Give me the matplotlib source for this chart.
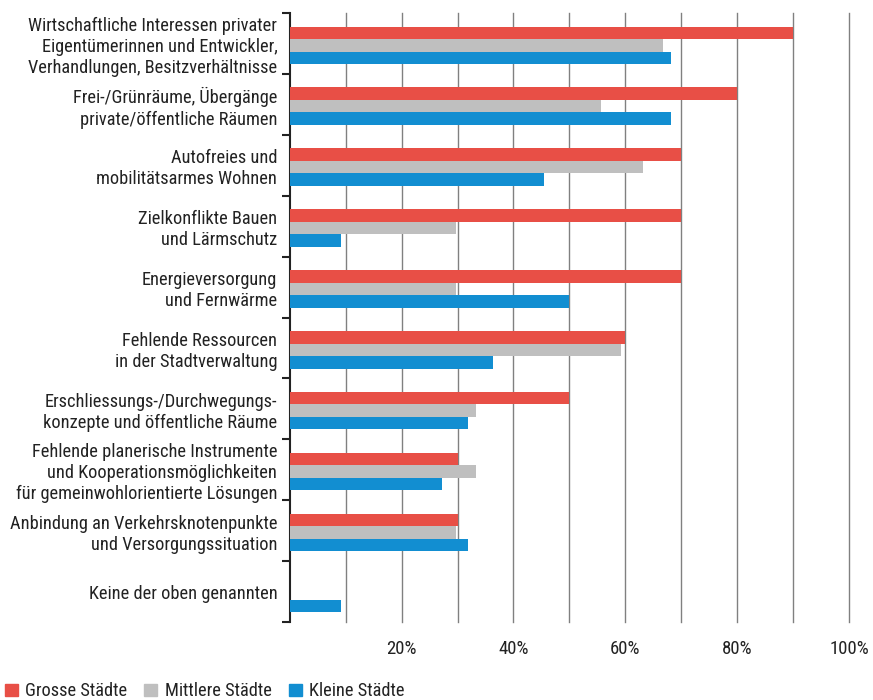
import numpy as np
import matplotlib.pyplot as plt
from matplotlib.patches import Patch

plt.rcParams['font.family'] = ['Roboto Condensed', 'DejaVu Sans']

# Data
categories = [
    'Wirtschaftliche Interessen privater\nEigentümerinnen und Entwickler,\nVerhandlungen, Besitzverhältnisse',
    'Frei-/Grünräume, Übergänge\nprivate/öffentliche Räumen',
    'Autofreies und\nmobilitätsarmes Wohnen',
    'Zielkonflikte Bauen\nund Lärmschutz',
    'Energieversorgung\nund Fernwärme',
    'Fehlende Ressourcen\nin der Stadtverwaltung',
    'Erschliessungs-/Durchwegungs-\nkonzepte und öffentliche Räume',
    'Fehlende planerische Instrumente\nund Kooperationsmöglichkeiten\nfür gemeinwohlorientierte Lösungen',
    'Anbindung an Verkehrsknotenpunkte\nund Versorgungssituation',
    'Keine der oben genannten',
]
grosse = [90, 80, 70, 70, 70, 60, 50, 30, 30, 0]
mittlere = [66.7, 55.6, 63.1, 29.7, 29.7, 59.3, 33.3, 33.3, 29.7, 0]
kleine = [68.2, 68.2, 45.5, 9.1, 50, 36.4, 31.8, 27.3, 31.8, 9.1]
series_names = ['Grosse Städte', 'Mittlere Städte', 'Kleine Städte']
colors = ['#E84F46', '#BFBFBF', '#128ED1']
xticks = [20, 40, 60, 80, 100]

fig = plt.figure(figsize=(8.73, 7.0), dpi=100)
ax = fig.add_axes([0.332, 0.1114, 0.6405, 0.870])

n = len(categories)
pos = np.arange(n)
h = 0.205
for k, vals in enumerate([grosse, mittlere, kleine]):
    ax.barh(pos + (k - 1) * h + 0.03, vals, height=h, color=colors[k], zorder=3)

ax.set_ylim(n - 0.5, -0.5)
ax.set_xlim(0, 100)

# gridlines every 10 %
for gx in range(10, 101, 10):
    ax.axvline(gx, color='#808080', lw=1.0, zorder=1, clip_on=False)

ax.set_xticks(xticks, [f'{t}%' for t in xticks])
ax.tick_params(axis='x', length=0, pad=13, labelsize=13.5, labelcolor='#222222')

ax.set_yticks(pos, categories)
ax.set_yticks(np.arange(n + 1) - 0.5, minor=True)
ax.tick_params(axis='y', which='major', length=0, pad=9, labelsize=13.2, labelcolor='#222222')
ax.tick_params(axis='y', which='minor', length=6, width=1.5, color='#222222', direction='out')
for lbl in ax.get_yticklabels():
    lbl.set_linespacing(1.22)

for s in ['top', 'right', 'bottom']:
    ax.spines[s].set_visible(False)
ax.spines['left'].set_linewidth(1.5)
ax.spines['left'].set_color('#222222')

handles = [Patch(color=c, label=l) for c, l in zip(colors, series_names)]
fig.legend(handles=handles, loc='lower left', bbox_to_anchor=(-0.003, -0.011), ncol=3,
           frameon=False, fontsize=13.2, handlelength=0.7, handleheight=0.7,
           handletextpad=0.4, columnspacing=0.95, borderaxespad=0, labelcolor='#222222')

fig.savefig('out.png', dpi=100)
